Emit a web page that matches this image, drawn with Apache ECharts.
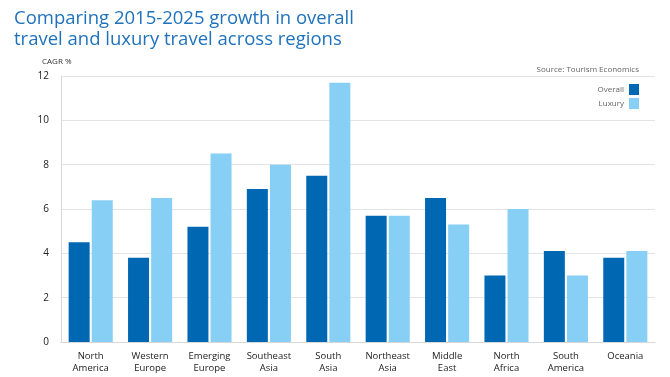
<!DOCTYPE html>
<html>
<head>
<meta charset="utf-8">
<script src="https://cdn.jsdelivr.net/npm/echarts@6/dist/echarts.min.js"></script>
<style>
	html, body { margin: 0; padding: 0; background: #fff; }
	#chart { width: 670px; height: 377px; }
</style>
</head>
<body>
<div id="chart"></div>
<script>
const regions = ['North\nAmerica', 'Western\nEurope', 'Emerging\nEurope', 'Southeast\nAsia', 'South\nAsia',
	'Northeast\nAsia', 'Middle\nEast', 'North\nAfrica', 'South\nAmerica', 'Oceania'];
const overall = [4.5, 3.8, 5.2, 6.9, 7.5, 5.7, 6.5, 3.0, 4.1, 3.8];
const luxury = [6.4, 6.5, 8.5, 8.0, 11.7, 5.7, 5.3, 6.0, 3.0, 4.1];
const yTicks = [0, 2, 4, 6, 8, 10, 12];

const font = 'Open Sans';
const chart = echarts.init(document.getElementById('chart'));

chart.setOption({
	animation: false,
	textStyle: { fontFamily: font },
	title: [{
		text: 'Comparing 2015-2025 growth in overall\ntravel and luxury travel across regions',
		left: 9, top: 3,
		textStyle: { color: '#1f72bb', fontSize: 18.5, fontWeight: 'normal', lineHeight: 21, fontFamily: font }
	}, {
		text: 'CAGR %',
		left: 37, top: 53,
		textStyle: { color: '#333', fontSize: 8, fontWeight: 'normal', fontFamily: font }
	}, {
		text: 'Source: Tourism Economics',
		right: 26, top: 61,
		textStyle: { color: '#666', fontSize: 8, fontWeight: 'normal', fontFamily: font }
	}],
	legend: {
		orient: 'vertical',
		right: 26, top: 79,
		align: 'right',
		itemWidth: 10, itemHeight: 11,
		itemGap: 3,
		icon: 'rect',
		textStyle: { color: '#666', fontSize: 8 },
		data: ['Overall', 'Luxury']
	},
	grid: { left: 61, right: 15, top: 76, bottom: 35 },
	xAxis: {
		type: 'category',
		data: regions,
		axisLine: { lineStyle: { color: '#d8d8d8' } },
		axisTick: { show: false },
		axisLabel: { color: '#222', fontSize: 9.5, lineHeight: 12, margin: 8, interval: 0 }
	},
	yAxis: {
		type: 'value',
		min: yTicks[0], max: yTicks[yTicks.length - 1], interval: 2,
		axisLine: { show: true, lineStyle: { color: '#d8d8d8' } },
		axisTick: { show: false },
		axisLabel: { color: '#222', fontSize: 10, margin: 12 },
		splitLine: { lineStyle: { color: '#e4e4e4' } }
	},
	series: [{
		name: 'Overall',
		type: 'bar',
		data: overall,
		barWidth: 21,
		barGap: '10%',
		itemStyle: { color: '#0068b3' }
	}, {
		name: 'Luxury',
		type: 'bar',
		data: luxury,
		barWidth: 21,
		itemStyle: { color: '#88cff5' }
	}]
});
</script>
</body>
</html>
